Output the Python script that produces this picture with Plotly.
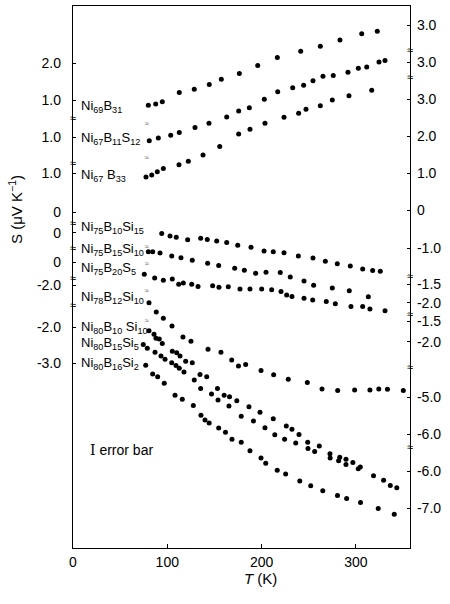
import plotly.graph_objects as go

# ---------------- data: T (K) and thermopower S (uV/K) ----------------
T_Ni69B31 = [79.9, 87.7, 94.7, 112.7, 128.6, 144.5, 157.3, 176.4, 195.9, 216.7, 241.5, 262.3, 283.1, 306.2, 322.7]
S_Ni69B31 = [0.86, 0.89, 0.95, 1.20, 1.29, 1.42, 1.56, 1.72, 1.93, 2.15, 2.32, 2.45, 2.62, 2.79, 2.86]

T_Ni67B11S12 = [80.9, 90.5, 103.6, 112.7, 129.4, 144.2, 163.0, 175.7, 187.0, 202.9, 217.1, 233.0, 244.6, 254.5,
                265.1, 276.0, 291.6, 302.6, 311.5, 324.5, 330.9]
S_Ni67B11S12 = [0.90, 0.97, 1.05, 1.12, 1.26, 1.37, 1.54, 1.70, 1.79, 2.02, 2.22, 2.33, 2.40, 2.52,
                2.64, 2.66, 2.75, 2.86, 2.89, 3.03, 3.07]

T_Ni67B33 = [77.4, 83.5, 89.4, 95.8, 112.4, 122.3, 137.9, 155.6, 175.7, 187.7, 203.6, 223.8, 239.3, 247.1,
             262.3, 275.0, 292.7, 316.8]
S_Ni67B33 = [0.92, 0.97, 1.06, 1.15, 1.25, 1.34, 1.51, 1.74, 2.08, 2.21, 2.37, 2.53, 2.64, 2.75,
             2.84, 3.00, 3.11, 3.26]

T_Ni75B10Si15 = [94.1, 102.9, 109.5, 121.6, 135.4, 142.4, 152.4, 163.0, 174.7, 188.8, 202.6, 212.4, 223.8, 239.0,
                 254.5, 267.6, 280.3, 294.1, 307.2, 317.8, 325.9]
S_Ni75B10Si15 = [-0.61, -0.68, -0.71, -0.78, -0.74, -0.77, -0.81, -0.85, -0.93, -0.98, -1.08, -1.10, -1.13, -1.22,
                 -1.27, -1.36, -1.43, -1.49, -1.57, -1.61, -1.63]

T_Ni75B15Si10 = [79.9, 84.5, 92.3, 104.7, 114.5, 126.5, 142.8, 154.5, 171.5, 181.7, 193.7, 204.7, 219.8, 230.4,
                 245.0, 255.2, 275.0, 293.0, 313.2]
S_Ni75B15Si10 = [-0.51, -0.51, -0.54, -0.62, -0.67, -0.74, -0.82, -0.88, -0.95, -1.01, -1.09, -1.06, -1.07, -1.19,
                 -1.30, -1.41, -1.49, -1.56, -1.72]

T_Ni75B20S5 = [75.6, 86.6, 95.8, 105.3, 112.1, 117.0, 125.9, 132.6, 148.1, 154.8, 164.7, 177.1, 187.7, 200.1,
               210.7, 220.6, 226.6, 232.2, 245.0, 254.2, 268.6, 278.2, 294.8, 307.2, 314.9, 330.9]
S_Ni75B20S5 = [-0.33, -0.43, -0.49, -0.46, -0.60, -0.57, -0.60, -0.66, -0.64, -0.68, -0.67, -0.73, -0.73, -0.73,
               -0.75, -0.80, -0.89, -0.93, -0.98, -1.03, -1.07, -1.13, -1.20, -1.20, -1.27, -1.32]

T_Ni78B12Si10 = [80.6, 88.3, 95.8, 105.0, 116.6, 125.1, 143.2, 156.9, 168.3, 175.5, 183.1, 199.4, 212.8, 228.3,
                 248.5, 264.1, 280.7, 298.7, 314.9, 324.3, 333.5, 350.3]
S_Ni78B12Si10 = [-2.48, -2.73, -2.90, -3.11, -3.41, -3.52, -3.74, -3.82, -4.03, -4.19, -4.15, -4.31, -4.43, -4.55,
                 -4.64, -4.81, -4.85, -4.84, -4.84, -4.81, -4.82, -4.85]

T_Ni80B10Si10 = [80.6, 85.9, 88.0, 91.5, 94.7, 105.3, 110.0, 113.5, 119.5, 126.5, 134.7, 141.8, 153.2, 160.3,
                 166.0, 173.7, 186.6, 198.3, 212.4, 226.2, 232.2, 239.7, 248.9, 261.2, 272.5, 282.9, 289.5,
                 296.8, 304.7, 318.7, 329.4, 336.5, 343.4]
S_Ni80B10Si10 = [-2.11, -2.20, -2.31, -2.33, -2.45, -2.66, -2.70, -2.79, -2.93, -2.97, -3.29, -3.35, -3.67, -3.85,
                 -3.89, -4.00, -4.16, -4.31, -4.49, -4.68, -4.77, -4.91, -5.12, -5.22, -5.43, -5.53, -5.58,
                 -5.67, -5.79, -6.03, -6.15, -6.29, -6.35]

T_Ni80B15Si5 = [74.5, 78.8, 87.0, 93.3, 97.6, 104.7, 109.2, 112.7, 117.7, 128.6, 135.4, 146.9, 153.8, 165.4,
                178.4, 191.4, 203.6, 214.0, 224.4, 236.2, 249.2, 256.3, 272.7, 281.7, 289.5, 302.5]
S_Ni80B15Si5 = [-2.48, -2.58, -2.69, -2.79, -2.88, -2.97, -3.05, -3.12, -3.22, -3.44, -3.67, -3.82, -3.98, -4.14,
                -4.42, -4.55, -4.73, -4.92, -5.04, -5.14, -5.29, -5.37, -5.55, -5.62, -5.72, -5.84]

T_Ni80B16Si2 = [77.1, 84.5, 89.8, 96.8, 108.2, 115.9, 127.6, 135.7, 140.0, 144.4, 154.5, 161.7, 168.6, 178.4,
                187.7, 199.4, 204.4, 216.6, 225.5, 240.5, 252.1, 264.9, 280.5, 290.2, 304.9, 323.7, 340.7]
S_Ni80B16Si2 = [-3.04, -3.28, -3.35, -3.53, -3.85, -3.96, -4.13, -4.39, -4.52, -4.60, -4.74, -4.85, -5.04, -5.12,
                -5.35, -5.55, -5.69, -5.88, -5.98, -6.17, -6.30, -6.43, -6.56, -6.64, -6.75, -6.91, -7.07]

labels = [
    "Ni<sub>69</sub>B<sub>31</sub>",
    "Ni<sub>67</sub>B<sub>11</sub>S<sub>12</sub>",
    "Ni<sub>67</sub> B<sub>33</sub>",
    "Ni<sub>75</sub>B<sub>10</sub>Si<sub>15</sub>",
    "Ni<sub>75</sub>B<sub>15</sub>Si<sub>10</sub>",
    "Ni<sub>75</sub>B<sub>20</sub>S<sub>5</sub>",
    "Ni<sub>78</sub>B<sub>12</sub>Si<sub>10</sub>",
    "Ni<sub>80</sub>B<sub>10</sub> Si<sub>10</sub>",
    "Ni<sub>80</sub>B<sub>15</sub>Si<sub>5</sub>",
    "Ni<sub>80</sub>B<sub>16</sub>Si<sub>2</sub>",
]
temps = [T_Ni69B31, T_Ni67B11S12, T_Ni67B33, T_Ni75B10Si15, T_Ni75B15Si10, T_Ni75B20S5,
         T_Ni78B12Si10, T_Ni80B10Si10, T_Ni80B15Si5, T_Ni80B16Si2]
seebeck = [S_Ni69B31, S_Ni67B11S12, S_Ni67B33, S_Ni75B10Si15, S_Ni75B15Si10, S_Ni75B20S5,
           S_Ni78B12Si10, S_Ni80B10Si10, S_Ni80B15Si5, S_Ni80B16Si2]

# vertical display shift of each curve (axis units of the stacked plot)
offsets = [11.108, 10.108, 9.11, 9.11, 8.514, 7.73, 9.11, 7.98, 7.98, 7.98]

# tick labels of the broken (stacked) scales
left_tick_text = ["2.0", "1.0", "1.0", "1.0", "0", "0", "0", "-2.0", "-2.0", "-3.0"]
left_tick_pos = [13.108, 12.108, 11.108, 10.135, 9.081, 8.514, 7.73, 7.108, 5.973, 5.0]
right_tick_text = ["3.0", "3.0", "3.0", "2.0", "1.0", "0", "-1.0", "-1.5", "-2.0", "-1.5", "-2.0",
                   "-5.0", "-6.0", "-6.0", "-7.0"]
right_tick_pos = [14.135, 13.135, 12.135, 11.135, 10.135, 9.135, 8.108, 7.135, 6.622, 6.135, 5.568,
                  4.081, 3.081, 2.081, 1.081]
left_breaks = [11.622, 10.405, 8.784, 8.108, 7.297, 6.568]
right_breaks = [13.459, 12.730, 7.351, 6.324, 4.892, 2.730]
label_pos = [11.946, 11.081, 10.081, 8.649, 8.081, 7.541, 6.784, 5.973, 5.514, 5.0]
small_marks = [11.486, 10.541, 8.162, 7.703, 6.973, 6.162]

FONT = "Liberation Sans, Arial, sans-serif"
Y_TOP = 14.649
X_MAX = 357.4

fig = go.Figure()
for T, S, off in zip(temps, seebeck, offsets):
    fig.add_trace(go.Scatter(
        x=T, y=[s + off for s in S], mode="markers",
        marker=dict(size=5, color="black", line=dict(width=0)),
        showlegend=False, hoverinfo="skip"))

# dummy trace so the right-hand axis is drawn
fig.add_trace(go.Scatter(x=[None], y=[None], yaxis="y2", showlegend=False, hoverinfo="skip"))

ann = []
for lab, yp in zip(labels, label_pos):
    ann.append(dict(x=6.4, y=yp, xref="x", yref="y", text=lab, showarrow=False,
                    xanchor="left", yanchor="middle", font=dict(size=13, family=FONT, color="black")))
for yb in left_breaks:
    ann.append(dict(x=0, y=yb, xref="paper", yref="y", text="≈", showarrow=False,
                    xanchor="center", yanchor="middle", font=dict(size=11, family=FONT, color="black")))
for yb in right_breaks:
    ann.append(dict(x=1, y=yb, xref="paper", yref="y", text="≈", showarrow=False,
                    xanchor="center", yanchor="middle", font=dict(size=11, family=FONT, color="black")))
for ym in small_marks:
    ann.append(dict(x=79, y=ym, xref="x", yref="y", text="≈", showarrow=False,
                    xanchor="center", yanchor="middle", font=dict(size=7, family=FONT, color="#444")))

ann.append(dict(x=15.9, y=2.649, xref="x", yref="y",
                text='<span style="font-family:DejaVu Serif">I</span> error bar', showarrow=False,
                xanchor="left", yanchor="middle", font=dict(size=14, family=FONT, color="black")))
ann.append(dict(xref="paper", yref="paper", x=(15 - 73) / 337.0, y=(548 - 210) / 542.0,
                xanchor="center", yanchor="middle", showarrow=False,
                text="S (μV K<sup>−1</sup>)", textangle=-90, font=dict(size=15, family=FONT, color="black")))
ann.append(dict(xref="paper", yref="paper", x=(260 - 73) / 337.0, y=(548 - 578) / 542.0,
                xanchor="center", yanchor="middle", showarrow=False,
                text="<i>T</i> (K)", font=dict(size=15, family=FONT, color="black")))

axis_common = dict(showline=True, linecolor="black", linewidth=1.3, showgrid=False, zeroline=False,
                   ticks="inside", tickcolor="black", automargin=False,
                   tickfont=dict(size=14, family=FONT, color="black"))

fig.update_layout(
    width=450, height=604,
    margin=dict(l=73, r=40, t=6, b=56),
    paper_bgcolor="white", plot_bgcolor="white",
    font=dict(family=FONT, color="black"),
    hovermode=False,
    xaxis=dict(range=[0, X_MAX], tickvals=[0, 100, 200, 300], ticklen=4, mirror=True,
               ticklabelstandoff=1, **axis_common),
    yaxis=dict(range=[0, Y_TOP], tickvals=left_tick_pos, ticktext=left_tick_text, ticklen=3,
               ticklabelstandoff=8, **axis_common),
    yaxis2=dict(range=[0, Y_TOP], overlaying="y", side="right", tickvals=right_tick_pos,
                ticktext=right_tick_text, ticklen=3, ticklabelstandoff=3, **axis_common),
    annotations=ann,
)

fig.write_html("out.html", config={"displayModeBar": False},
               post_script="document.body.style.margin='0';document.body.style.overflow='hidden';")
